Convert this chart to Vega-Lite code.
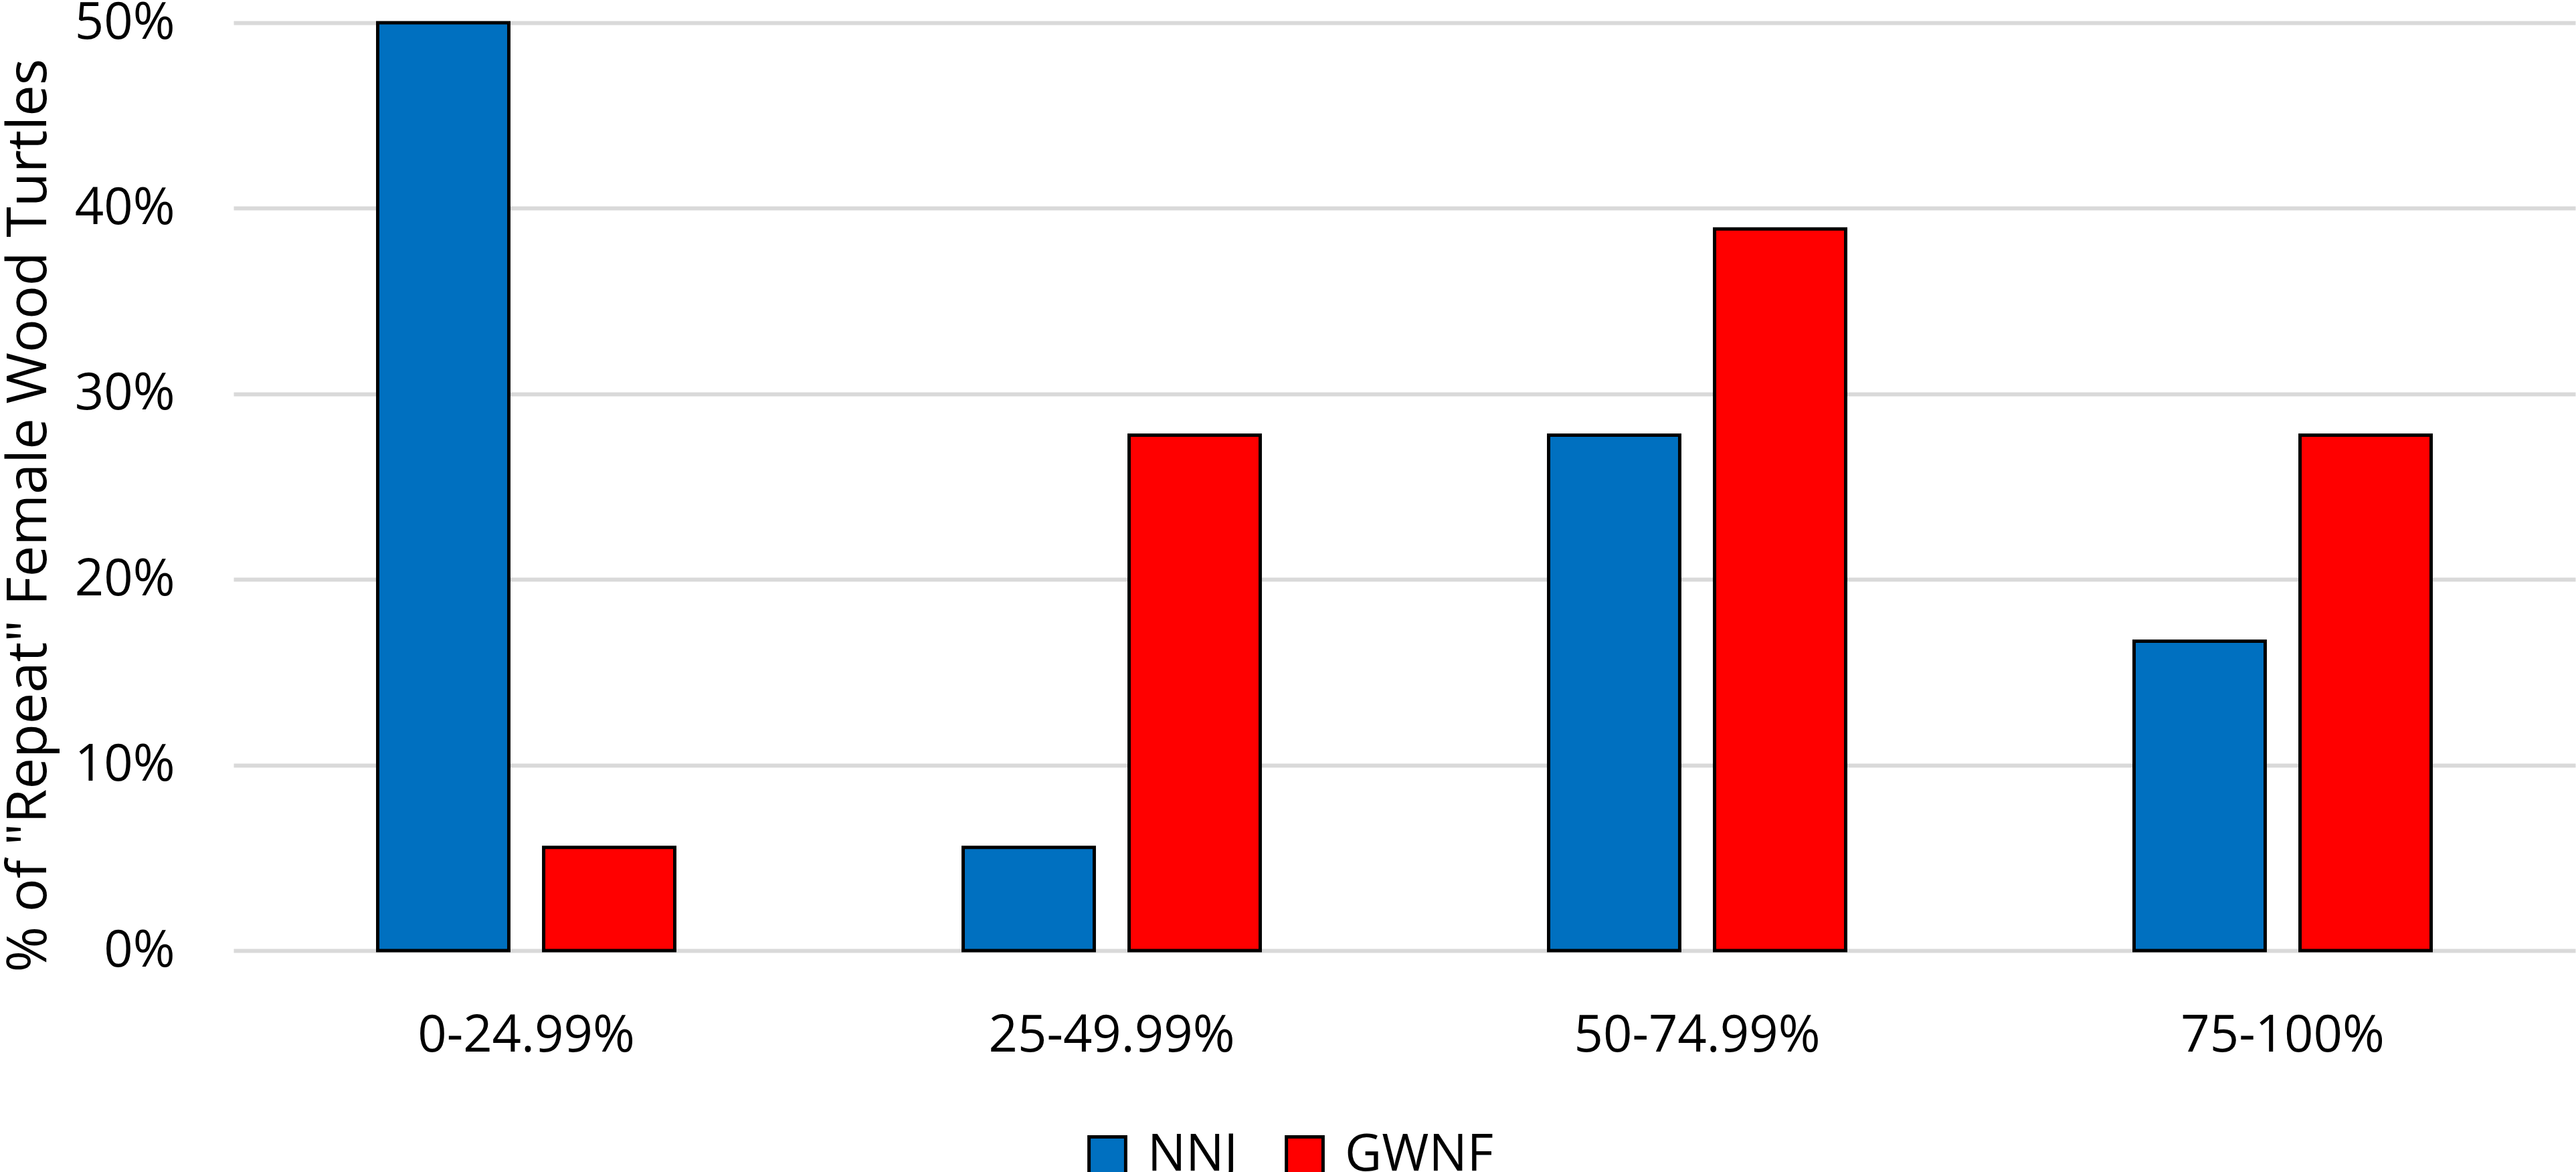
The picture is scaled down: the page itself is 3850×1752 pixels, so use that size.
{
  "$schema": "https://vega.github.io/schema/vega-lite/v6.json",
  "description": "Share of repeat female wood turtles by range, NNJ vs GWNF.",
  "autosize": "none",
  "width": 3500,
  "height": 1387,
  "padding": {"left": 349, "top": 34, "right": 1, "bottom": 331},
  "background": "white",
  "data": {
    "values": [
      {"range": "0-24.99%", "site": "NNJ", "pct": 0.5},
      {"range": "0-24.99%", "site": "GWNF", "pct": 0.0556},
      {"range": "25-49.99%", "site": "NNJ", "pct": 0.0556},
      {"range": "25-49.99%", "site": "GWNF", "pct": 0.2778},
      {"range": "50-74.99%", "site": "NNJ", "pct": 0.2778},
      {"range": "50-74.99%", "site": "GWNF", "pct": 0.3889},
      {"range": "75-100%", "site": "NNJ", "pct": 0.1667},
      {"range": "75-100%", "site": "GWNF", "pct": 0.2778}
    ]
  },
  "mark": {"type": "bar", "stroke": "black", "strokeWidth": 5},
  "encoding": {
    "x": {
      "field": "range",
      "type": "nominal",
      "sort": null,
      "scale": {"paddingInner": 0, "paddingOuter": 0},
      "axis": {
        "title": null,
        "labelAngle": 0,
        "labelFont": "Open Sans",
        "labelFontSize": 76,
        "labelColor": "black",
        "labelPadding": 90,
        "labelLimit": 0,
        "ticks": false,
        "domain": false,
        "grid": false
      }
    },
    "xOffset": {
      "field": "site",
      "type": "nominal",
      "sort": ["NNJ", "GWNF"],
      "scale": {"paddingInner": 0.21, "paddingOuter": 0.869}
    },
    "y": {
      "field": "pct",
      "type": "quantitative",
      "scale": {"domain": [0, 0.5]},
      "axis": {
        "title": "% of \"Repeat\" Female Wood Turtles",
        "titleFont": "Open Sans",
        "titleFontSize": 83,
        "titleFontWeight": "normal",
        "titleColor": "black",
        "titleAngle": -90,
        "titleAlign": "center",
        "titleBaseline": "middle",
        "titleX": -306,
        "titleY": 736,
        "titleLimit": 0,
        "format": ".0%",
        "values": [0, 0.1, 0.2, 0.3, 0.4, 0.5],
        "labelFont": "Open Sans",
        "labelFontSize": 76,
        "labelColor": "black",
        "labelPadding": 88,
        "ticks": false,
        "domain": false,
        "grid": true,
        "gridColor": "#d9d9d9",
        "gridWidth": 6
      }
    },
    "color": {
      "field": "site",
      "type": "nominal",
      "sort": ["NNJ", "GWNF"],
      "scale": {"domain": ["NNJ", "GWNF"], "range": ["#0070c0", "#ff0000"]},
      "legend": {
        "title": null,
        "orient": "none",
        "direction": "horizontal",
        "legendX": 1268,
        "legendY": 1655,
        "symbolType": "square",
        "symbolSize": 3000,
        "symbolStrokeColor": "black",
        "symbolStrokeWidth": 5,
        "labelFont": "Open Sans",
        "labelFontSize": 76,
        "labelColor": "black",
        "labelLimit": 0,
        "labelOffset": 22,
        "columnPadding": 62
      }
    }
  },
  "config": {"view": {"stroke": null}}
}
